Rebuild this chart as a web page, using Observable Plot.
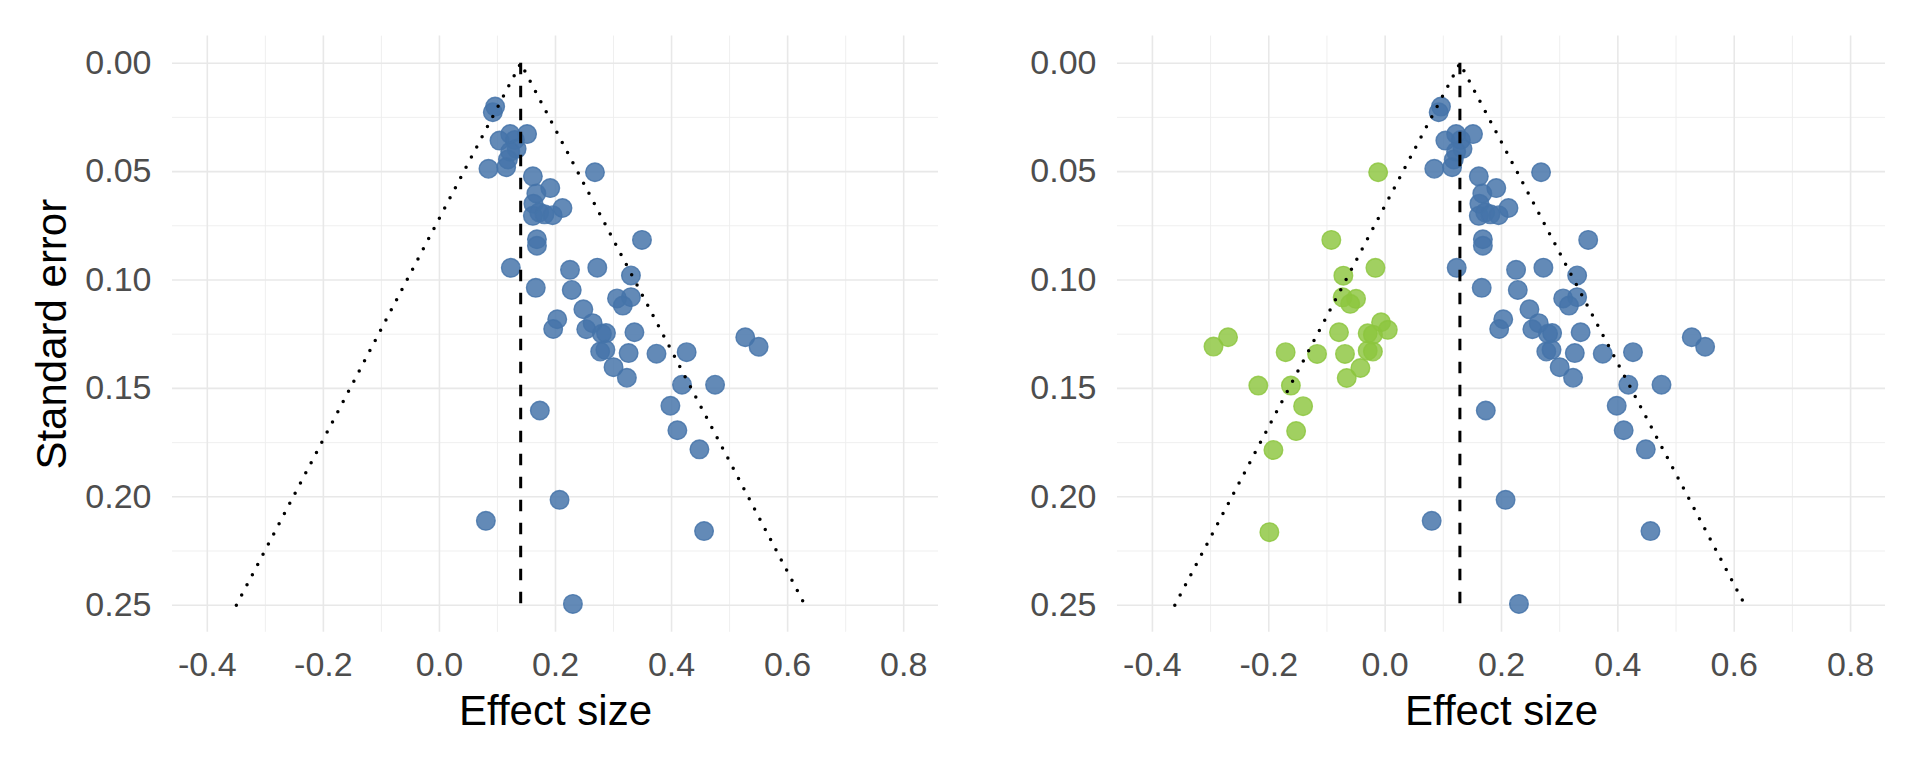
<!DOCTYPE html>
<html>
<head>
<meta charset="utf-8">
<script src="https://cdn.jsdelivr.net/npm/d3@7"></script>
<script src="https://cdn.jsdelivr.net/npm/@observablehq/plot@0.6"></script>
<style>
  html, body { margin: 0; padding: 0; background: #ffffff; }
  #wrap { display: flex; width: 1920px; height: 768px; }
  #wrap > div { width: 960px; height: 768px; }
  svg { display: block; }
</style>
</head>
<body>
<div id="wrap"><div id="left"></div><div id="right"></div></div>
<script>
// Observed studies (effect size, standard error)
const esObserved = [
  0.096, 0.092, 0.122, 0.151, 0.1035, 0.130, 0.133, 0.122, 0.118, 0.115,
  0.0845, 0.268, 0.161, 0.191, 0.167, 0.162, 0.161, 0.172, 0.181, 0.195,
  0.212, 0.168, 0.168, 0.349, 0.123, 0.225, 0.272, 0.330, 0.166, 0.228,
  0.306, 0.330, 0.316, 0.248, 0.203, 0.196, 0.264, 0.253, 0.280, 0.287,
  0.336, 0.527, 0.550, 0.277, 0.286, 0.326, 0.374, 0.426, 0.300, 0.323,
  0.418, 0.475, 0.398, 0.173, 0.410, 0.448, 0.207, 0.080, 0.456, 0.230
];
const seObserved = [
  0.0200, 0.0226, 0.0327, 0.0327, 0.0357, 0.0354, 0.0395, 0.0408, 0.0444, 0.0480,
  0.0487, 0.0503, 0.0522, 0.0576, 0.0601, 0.0648, 0.0704, 0.0688, 0.0697, 0.0701,
  0.0668, 0.0812, 0.0842, 0.0815, 0.0944, 0.0953, 0.0943, 0.0979, 0.1036, 0.1046,
  0.1085, 0.1079, 0.1118, 0.1135, 0.1181, 0.1226, 0.1199, 0.1227, 0.1248, 0.1245,
  0.1241, 0.1264, 0.1308, 0.1330, 0.1322, 0.1337, 0.1340, 0.1333, 0.1402, 0.1451,
  0.1483, 0.1483, 0.1580, 0.1602, 0.1693, 0.1781, 0.2014, 0.2111, 0.2158, 0.2494
];
// Imputed (trim-and-fill) studies
const esImputed = [
  -0.012, -0.0925, -0.0167, -0.0718, -0.073, -0.050, -0.060, -0.270, -0.295, -0.0793,
  -0.007, 0.0046, -0.030, -0.021, -0.030, -0.021, -0.171, -0.117, -0.069, -0.0425,
  -0.066, -0.218, -0.162, -0.141, -0.153, -0.192, -0.199
];
const seImputed = [
  0.0503, 0.0815, 0.0944, 0.0980, 0.1080, 0.1087, 0.1110, 0.1264, 0.1307, 0.1241,
  0.1195, 0.1230, 0.1246, 0.1252, 0.1326, 0.1330, 0.1333, 0.1341, 0.1341, 0.1406,
  0.1452, 0.1487, 0.1487, 0.1582, 0.1697, 0.1784, 0.2163
];
// Pooled estimates (left: observed, right: after trim-and-fill)
const pooledEstimates = [0.14, 0.1285];
// Funnel (pseudo-confidence) line endpoints: left foot, apex, right foot
const funnelLeftPanel  = [{es: -0.350, se: 0.25}, {es: 0.14, se: 0}, {es: 0.630, se: 0.25}];
const funnelRightPanel = [{es: -0.3615, se: 0.25}, {es: 0.1285, se: 0}, {es: 0.6185, se: 0.25}];
// Axis ticks
const xMajor = [-0.4, -0.2, 0.0, 0.2, 0.4, 0.6, 0.8];
const xMinor = [-0.3, -0.1, 0.1, 0.3, 0.5, 0.7];
const yMajor = [0.00, 0.05, 0.10, 0.15, 0.20, 0.25];
const yMinor = [0.025, 0.075, 0.125, 0.175, 0.225];
const xLabel = "Effect size";
const yLabel = "Standard error";

const blue = "#4574a9";
const green = "#8cc63e";
const font = "'Liberation Sans', Arial, Helvetica, sans-serif";
const tickFont = 34;
const titleFont = 42;

const observed = esObserved.map((es, i) => ({es, se: seObserved[i]}));
const imputed = esImputed.map((es, i) => ({es, se: seImputed[i]}));

function panel({ml, mr, center, funnel, extra, showY}) {
  const marks = [
    Plot.ruleX(xMinor, {stroke: "#ededed", strokeWidth: 0.9}),
    Plot.ruleY(yMinor, {stroke: "#ededed", strokeWidth: 0.9}),
    Plot.ruleX(xMajor, {stroke: "#e8e8e8", strokeWidth: 1.6}),
    Plot.ruleY(yMajor, {stroke: "#e8e8e8", strokeWidth: 1.6}),
  ];
  if (extra) {
    marks.push(Plot.dot(extra, {x: "es", y: "se", r: 9.3, fill: green, fillOpacity: 0.82,
      stroke: green, strokeOpacity: 0.82, strokeWidth: 1.4}));
  }
  marks.push(
    Plot.dot(observed, {x: "es", y: "se", r: 9.3, fill: blue, fillOpacity: 0.84,
      stroke: blue, strokeOpacity: 0.84, strokeWidth: 1.4}),
    Plot.line(funnel, {x: "es", y: "se", stroke: "black", strokeWidth: 3.5,
      strokeLinecap: "round", strokeDasharray: "0,11.5"}),
    Plot.ruleX([center], {x: d => d, y1: 0, y2: 0.25, stroke: "black", strokeWidth: 3,
      strokeDasharray: "11.5,11.5"}),
    // tick labels, placed through the x / y scales
    Plot.text(xMajor, {x: d => d, frameAnchor: "bottom", lineAnchor: "top", dy: 20,
      text: d => d.toFixed(1), fontSize: tickFont, fill: "#4d4d4d"}),
    Plot.text(yMajor, {y: d => d, frameAnchor: "left", textAnchor: "end", lineAnchor: "middle",
      dx: -21, text: d => d.toFixed(2), fontSize: tickFont, fill: "#4d4d4d"}),
    Plot.text([xLabel], {frameAnchor: "bottom", textAnchor: "middle", lineAnchor: "top", dy: 63,
      fontSize: titleFont, fill: "black"})
  );
  if (showY) {
    marks.push(Plot.text([yLabel], {frameAnchor: "left", textAnchor: "middle", lineAnchor: "middle",
      dx: -(ml - 52), rotate: -90, fontSize: titleFont, fill: "black"}));
  }
  return Plot.plot({
    width: 960, height: 768,
    marginLeft: ml, marginRight: mr, marginTop: 35.6, marginBottom: 136.2,
    x: {domain: [-0.46, 0.86], axis: null},
    y: {domain: [-0.0125, 0.2625], reverse: true, axis: null},
    style: {fontFamily: font, fontSize: "34px", background: "white", color: "#4d4d4d", overflow: "visible"},
    marks
  });
}

document.getElementById("left").appendChild(panel({
  ml: 172, mr: 22, center: pooledEstimates[0], funnel: funnelLeftPanel, extra: null, showY: true
}));
document.getElementById("right").appendChild(panel({
  ml: 157, mr: 35, center: pooledEstimates[1], funnel: funnelRightPanel, extra: imputed, showY: false
}));
</script>
</body>
</html>
